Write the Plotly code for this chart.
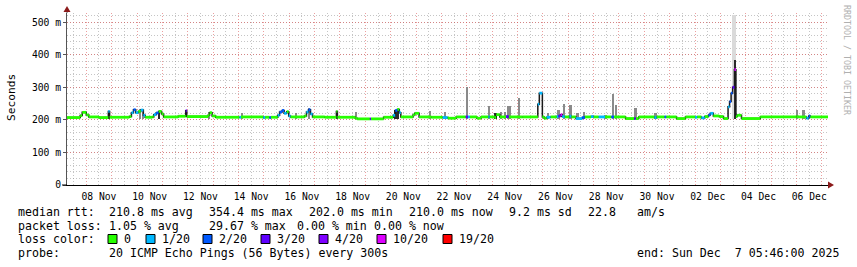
import plotly.graph_objects as go

# ---------------- data (x in days since 2025-11-07 00:00) ----------------
T_START = 0.24   # Fri Nov 7 05:46
T_END = 30.24    # Sun Dec 7 05:46

# median rtt step series: interval start, value (ms), lost pings of 20
med_t = [0.24, 0.76, 0.84, 1.00, 1.10, 1.50, 1.87, 1.92, 2.70, 2.78, 2.86, 2.95, 3.05, 3.15, 3.25,
         3.32, 3.60, 3.66, 3.75, 3.85, 3.97, 4.05, 4.62, 4.92, 4.96, 5.80, 5.86, 5.96, 6.10, 7.04,
         7.10, 7.98, 8.05, 8.22, 8.28, 8.55, 8.62, 8.72, 8.80, 8.90, 8.98, 9.05, 9.60, 9.68, 9.76,
         9.84, 9.92, 10.40, 10.86, 10.90, 11.60, 11.68, 12.18, 12.22, 12.72, 13.10, 13.18, 13.26, 13.34,
         13.40, 13.88, 13.95, 14.12, 14.60, 15.05, 15.24, 15.30, 15.58, 15.96, 16.04, 16.12, 16.40,
         16.56, 16.85, 16.90, 17.10, 17.16, 17.30, 17.55, 17.65, 18.20, 18.80, 18.86, 18.98, 19.05,
         19.15, 19.30, 19.55, 19.62, 19.70, 19.76, 19.86, 20.05, 20.12, 20.30, 20.55, 20.65, 20.90,
         21.00, 21.20, 21.45, 21.70, 21.80, 22.26, 22.60, 22.66, 22.78, 23.40, 23.48, 23.80, 23.86,
         24.27, 24.62, 25.00, 25.08, 25.25, 25.38, 25.53, 25.60, 25.72, 25.95, 26.12, 26.30, 26.36,
         26.42, 26.48, 26.55, 26.61, 26.66, 26.83, 27.57, 29.00, 29.06, 29.39, 29.48, 29.54]
med_v = [207, 213, 223, 215, 209, 207, 226, 208, 210, 222, 231, 222, 226, 230, 214,
         208, 209, 216, 221, 226, 218, 209, 211, 228, 210, 214, 222, 212, 208, 208,
         209, 207, 208, 207, 208, 214, 224, 229, 220, 225, 212, 209, 212, 224, 231,
         218, 209, 208, 226, 208, 205, 203, 203, 203, 208, 214, 229, 232, 222,
         209, 215, 220, 209, 208, 207, 206, 205, 209, 209, 209, 209, 205,
         209, 209, 209, 207, 216, 209, 210, 209, 209, 248, 282, 209, 205,
         208, 209, 210, 212, 216, 210, 209, 211, 209, 204, 207, 209, 210,
         209, 209, 209, 209, 209, 204, 204, 204, 209, 207, 209, 209, 209,
         204, 209, 208, 209, 206, 210, 215, 220, 212, 210, 204, 240, 256,
         282, 300, 354, 210, 214, 204, 209, 210, 209, 205, 212, 209]
med_loss = [0, 0, 0, 0, 0, 0, 1, 0, 0, 1, 2, 1, 0, 1, 1,
            0, 0, 1, 2, 0, 0, 0, 0, 3, 0, 0, 0, 0, 0, 1,
            0, 1, 0, 2, 0, 1, 2, 2, 1, 0, 1, 0, 0, 1, 2,
            1, 0, 0, 0, 0, 0, 0, 3, 0, 0, 1, 2, 0, 1,
            0, 0, 0, 0, 0, 1, 0, 0, 0, 3, 1, 0, 0,
            0, 1, 0, 0, 0, 0, 3, 0, 0, 1, 1, 0, 0,
            1, 0, 1, 3, 10, 1, 0, 1, 0, 1, 2, 0, 1,
            0, 1, 0, 2, 0, 0, 3, 0, 0, 1, 0, 2, 0,
            0, 0, 1, 0, 1, 0, 2, 1, 0, 0, 0, 1, 2,
            2, 3, 10, 0, 0, 0, 0, 0, 0, 1, 2, 0]

# smoke (ping spread) tops, ms
smoke_t = [3.13, 3.24, 5.84, 7.14, 9.27, 9.78, 11.63, 14.54, 15.13, 16.00, 16.87, 17.34, 17.50, 17.62,
           17.70, 18.05, 19.20, 19.62, 19.82, 20.09, 20.37, 20.62, 21.47, 21.75, 21.87, 22.65, 23.44,
           29.03, 29.27]
smoke_hi = [233, 230, 225, 220, 222, 237, 225, 227, 223, 301, 242, 225, 225, 242,
            242, 266, 220, 230, 248, 245, 222, 223, 215, 279, 245, 237, 222,
            230, 230]
dark_t = [1.90, 3.87, 10.88, 13.20, 13.30, 17.14, 26.58]
dark_hi = [227, 225, 227, 230, 232, 220, 383]
light_t = [26.55]
light_hi = [521]

# axis / legend text
x_label_days = [1.5, 3.5, 5.5, 7.5, 9.5, 11.5, 13.5, 15.5, 17.5, 19.5, 21.5, 23.5, 25.5, 27.5, 29.5]
x_labels = ["08 Nov", "10 Nov", "12 Nov", "14 Nov", "16 Nov", "18 Nov", "20 Nov", "22 Nov",
            "24 Nov", "26 Nov", "28 Nov", "30 Nov", "02 Dec", "04 Dec", "06 Dec"]
y_tick_vals = [0, 100, 200, 300, 400, 500]
y_tick_text = ["0", "100 m", "200 m", "300 m", "400 m", "500 m"]

loss_levels = [0, 1, 2, 3, 4, 10, 19]
loss_labels = ["0", "1/20", "2/20", "3/20", "4/20", "10/20", "19/20"]
loss_colors = ["#26ff00", "#00b8ff", "#0059ff", "#5e00ff", "#7e00ff", "#dd00ff", "#ff0000"]

rtt_fields = ["210.8 ms avg", "354.4 ms max", "202.0 ms min", "210.0 ms now", "9.2 ms sd", "22.8", "am/s"]
loss_fields = ["1.05 % avg", "29.67 % max", "0.00 % min", "0.00 % now"]
probe_text = "20 ICMP Echo Pings (56 Bytes) every 300s"
end_text = "end: Sun Dec  7 05:46:00 2025"

# ---------------- layout geometry (pixels) ----------------
W, H = 857, 267
PL, PR, PT, PB = 67, 828, 13, 185
Y_MAX = 528
MONO = "DejaVu Sans Mono"


def px(x):
    return (x - PL) / (PR - PL)


def py(y):
    return (PB - y) / (PB - PT)


fig = go.Figure()

# light smoke
fig.add_trace(go.Bar(x=light_t, y=[h - 204 for h in light_hi], base=204, width=0.16,
                     marker=dict(color="#dadada", line=dict(width=0)), hoverinfo="skip"))
# grey smoke
fig.add_trace(go.Bar(x=smoke_t, y=[h - 204 for h in smoke_hi], base=204, width=0.09,
                     marker=dict(color="#8a8a8a", line=dict(width=0)), hoverinfo="skip"))
# dark smoke
fig.add_trace(go.Bar(x=dark_t, y=[h - 204 for h in dark_hi], base=204, width=0.07,
                     marker=dict(color="#2a2a2a", line=dict(width=0)), hoverinfo="skip"))

# median connecting line (dark)
fig.add_trace(go.Scatter(x=med_t + [T_END], y=med_v + [med_v[-1]], mode="lines",
                         line=dict(color="#1a1a1a", width=1.5, shape="hv"), hoverinfo="skip"))

# loss-coloured median segments
ends = med_t[1:] + [T_END]


def level_index(n):
    idx = 0
    for i, lv in enumerate(loss_levels):
        if n >= lv:
            idx = i
    return idx


for ci, col in enumerate(loss_colors):
    xs, ys = [], []
    for t0, t1, v, n in zip(med_t, ends, med_v, med_loss):
        if level_index(n) == ci:
            xs += [t0, t1, None]
            ys += [v, v, None]
    if xs:
        fig.add_trace(go.Scatter(x=xs, y=ys, mode="lines", line=dict(color=col, width=2.8),
                                 hoverinfo="skip"))

# invisible trace to carry the grid axis
fig.add_trace(go.Scatter(x=[T_START, T_END], y=[0, 0], xaxis="x2", mode="lines",
                         line=dict(width=0), hoverinfo="skip"))

GRID_MAJOR = "rgba(220,80,80,0.55)"
GRID_MINOR = "rgba(140,140,140,0.5)"

fig.update_layout(
    width=W, height=H,
    margin=dict(l=PL, r=W - PR, t=PT, b=H - PB),
    paper_bgcolor="#ffffff", plot_bgcolor="#ffffff",
    showlegend=False, bargap=0, barmode="overlay",
    font=dict(family=MONO, color="#000000", size=10),
    xaxis=dict(range=[T_START, T_END], tickmode="array", tickvals=x_label_days, ticktext=x_labels,
               showgrid=False, zeroline=False, showline=True, linecolor="#000000", linewidth=1,
               ticks="", tickfont=dict(family=MONO, size=9.7, color="#000000"), ticklabelstandoff=2),
    xaxis2=dict(range=[T_START, T_END], overlaying="x", anchor="y", tick0=0, dtick=1,
                showticklabels=False, showgrid=True, gridcolor=GRID_MAJOR, griddash="1px,2px",
                gridwidth=1, zeroline=False, showline=False, ticks="",
                minor=dict(dtick=0.5, tick0=0, showgrid=True, gridcolor=GRID_MINOR,
                           griddash="1px,2px", gridwidth=1)),
    yaxis=dict(range=[0, Y_MAX], tickmode="array", tickvals=y_tick_vals, ticktext=y_tick_text,
               showgrid=True, gridcolor=GRID_MAJOR, griddash="1px,2px", gridwidth=1,
               zeroline=False, showline=True, linecolor="#555555", linewidth=1,
               ticks="outside", ticklen=3, tickcolor="#555555",
               tickfont=dict(family=MONO, size=9.7, color="#000000"),
               minor=dict(dtick=20, tick0=0, showgrid=True, gridcolor=GRID_MINOR,
                          griddash="1px,2px", gridwidth=1)),
)

shapes = []
# axis extensions and arrows
shapes.append(dict(type="line", xref="paper", yref="paper", x0=px(PL), x1=px(PL), y0=py(PT), y1=py(9),
                   line=dict(color="#555555", width=1)))
shapes.append(dict(type="line", xref="paper", yref="paper", x0=px(62), x1=px(PL), y0=0, y1=0,
                   line=dict(color="#000000", width=1)))
shapes.append(dict(type="path", xref="paper", yref="paper",
                   path=f"M {px(63.5)},{py(12)} L {px(70.5)},{py(12)} L {px(67)},{py(6)} Z",
                   fillcolor="#8b1a1a", line=dict(width=0)))
shapes.append(dict(type="path", xref="paper", yref="paper",
                   path=f"M {px(828)},{py(181.5)} L {px(828)},{py(188.5)} L {px(834)},{py(185)} Z",
                   fillcolor="#8b1a1a", line=dict(width=0)))

annotations = []


def text(x, y, s, size=11.6, color="#000000", anchor="left", angle=0):
    annotations.append(dict(x=px(x), y=py(y), xref="paper", yref="paper", text=s, showarrow=False,
                            xanchor=anchor, yanchor="middle", textangle=angle,
                            font=dict(family=MONO, size=size, color=color)))


text(11, 98, "Seconds", size=11.2, anchor="center", angle=-90)
text(847, 60, "RRDTOOL / TOBI OETIKER", size=8.3, color="#b0b0b0", anchor="center", angle=90)

ROW = [211.5, 225.5, 239.3, 253.3]
text(16, ROW[0], "median rtt:")
for xp, s in zip([107, 207, 307, 407, 507, 586, 635], rtt_fields):
    text(xp, ROW[0], s)
text(16, ROW[1], "packet loss:")
for xp, s in zip([107, 207, 295, 372], loss_fields):
    text(xp, ROW[1], s)
text(16, ROW[2], "loss color:")
for xp, lab, col in zip([108, 146, 203, 261, 319, 377, 443], loss_labels, loss_colors):
    shapes.append(dict(type="rect", xref="paper", yref="paper", x0=px(xp), x1=px(xp + 9),
                       y0=py(243.5), y1=py(234.5), fillcolor=col, line=dict(color="#000000", width=1)))
    text(xp + 14, ROW[2], lab)
text(16, ROW[3], "probe:")
text(107, ROW[3], probe_text)
text(841, ROW[3], end_text, anchor="right")

fig.update_layout(shapes=shapes, annotations=annotations)
fig.write_html("out.html")
